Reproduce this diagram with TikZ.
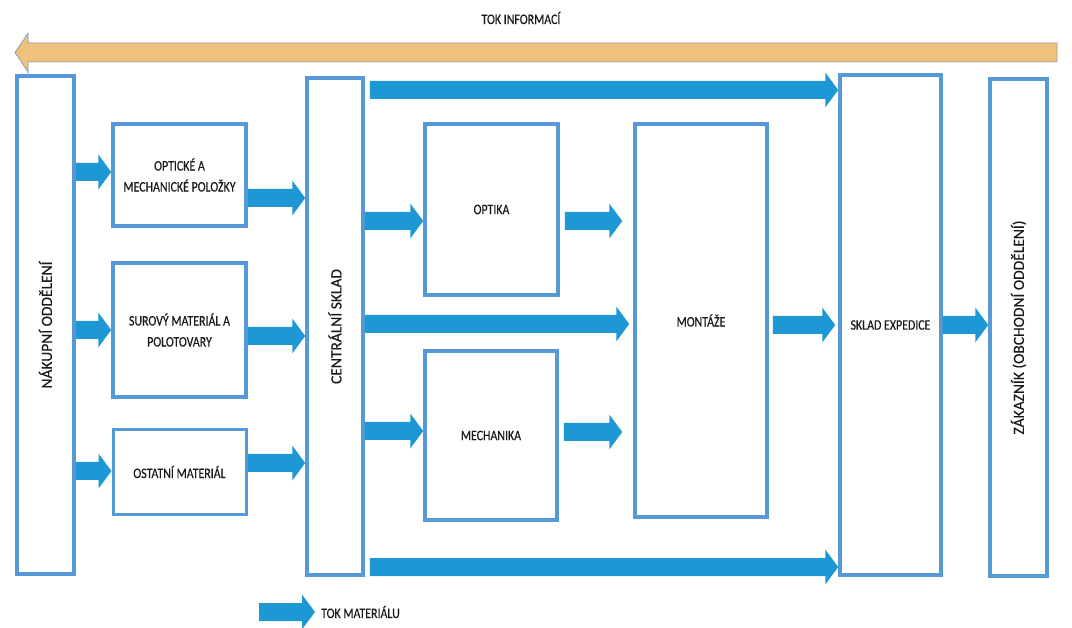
\documentclass[tikz,border=0pt]{standalone}
\usepackage{fontspec}
\usepackage{graphicx}
\usetikzlibrary{calc}
\newfontfamily\cfh[FakeStretch=0.82,FakeBold=0.35]{Carlito}
\newfontfamily\cfv[FakeBold=0.35]{Carlito}
\newcommand\vtxtfont{\cfv\fontsize{15.5}{18}\selectfont}
\definecolor{boxblue}{RGB}{86,153,214}
\definecolor{flowblue}{RGB}{29,152,212}
\definecolor{infofill}{RGB}{240,192,125}
\definecolor{infoedge}{RGB}{100,140,185}
\definecolor{txt}{RGB}{25,25,25}
% block arrow: from node #1 (east) to node #2 (west) at height #3, start gap #4, end gap #5
\newcommand\flow[5]{%
  \fill[flowblue] let \p1=(#1.east), \p2=(#2.west) in
  (\x1+#4,#3-9) -- (\x2-#5-13,#3-9) -- (\x2-#5-13,#3-17.5) -- (\x2-#5,#3)
  -- (\x2-#5-13,#3+17.5) -- (\x2-#5-13,#3+9) -- (\x1+#4,#3+9) -- cycle;}
\tikzset{
  box/.style={draw=boxblue, line width=3.5pt, fill=white, inner sep=0pt,
    align=center, text=txt, font=\cfh\fontsize{14.5}{21}\selectfont},
  lbl/.style={inner sep=0pt, text=txt, font=\cfh\fontsize{14.5}{18}\selectfont},
}
\begin{document}
\begin{tikzpicture}[x=1pt,y=-1pt]
\useasboundingbox (0,0) rectangle (1072,628);
% information flow arrow
\node[lbl] (info) at (521,18) {TOK INFORMACÍ};
\filldraw[fill=infofill, draw=infoedge, densely dotted, line width=1pt]
  (15,52.5) -- (28,33) -- (28,43) -- (1057,43) -- (1057,62) -- (28,62) -- (28,72) -- cycle;
% boxes
\node[box, minimum width=57, minimum height=498] (nak) at (45.5,325) {\rotatebox{90}{\vtxtfont NÁKUPNÍ ODDĚLENÍ}};
\node[box, minimum width=133, minimum height=102] (opm) at (179.5,175) {OPTICKÉ A\\MECHANICKÉ POLOŽKY};
\node[box, minimum width=133, minimum height=134] (sur) at (179.5,330) {SUROVÝ MATERIÁL A\\POLOTOVARY};
\node[box, line width=3pt, minimum width=133, minimum height=84] (ost) at (179.5,472) {OSTATNÍ MATERIÁL};
\node[box, minimum width=56, minimum height=497] (cen) at (335,326.5) {\rotatebox{90}{\vtxtfont CENTRÁLNÍ SKLAD}};
\node[box, minimum width=133, minimum height=171] (opt) at (491.5,209.5) {OPTIKA};
\node[box, minimum width=132, minimum height=169] (mech) at (491,435.5) {MECHANIKA};
\node[box, minimum width=132, minimum height=393] (mon) at (701,320.5) {MONTÁŽE};
\node[box, minimum width=101, minimum height=500] (exp) at (890.5,325) {SKLAD EXPEDICE};
\node[box, minimum width=57, minimum height=497] (zak) at (1018.5,327.5) {\rotatebox{90}{\vtxtfont ZÁKAZNÍK (OBCHODNÍ ODDĚLENÍ)}};
% material flow
\flow{nak}{opm}{172}{0}{0}
\flow{nak}{sur}{330}{0}{0}
\flow{nak}{ost}{471}{0}{0}
\flow{opm}{cen}{198}{0}{0}
\flow{sur}{cen}{336}{0}{0}
\flow{ost}{cen}{463}{0}{0}
\flow{cen}{exp}{90}{5}{0}
\flow{cen}{exp}{567}{5}{0}
\flow{cen}{opt}{221}{0}{0}
\flow{cen}{mon}{324}{0}{4}
\flow{cen}{mech}{431}{0}{0}
\flow{opt}{mon}{221}{5}{11}
\flow{mech}{mon}{432}{5}{11}
\flow{mon}{exp}{325}{4}{3}
\flow{exp}{zak}{325}{0}{0}
% legend
\coordinate (legs) at (259,612);
\node[lbl, anchor=west] (legt) at (321,612) {TOK MATERIÁLU};
\fill[flowblue] let \p1=(legs), \p2=(legt.west) in
  (\x1,612-9) -- (\x2-6-13,612-9) -- (\x2-6-13,612-17.5) -- (\x2-6,612)
  -- (\x2-6-13,612+17.5) -- (\x2-6-13,612+9) -- (\x1,612+9) -- cycle;
\end{tikzpicture}
\end{document}
